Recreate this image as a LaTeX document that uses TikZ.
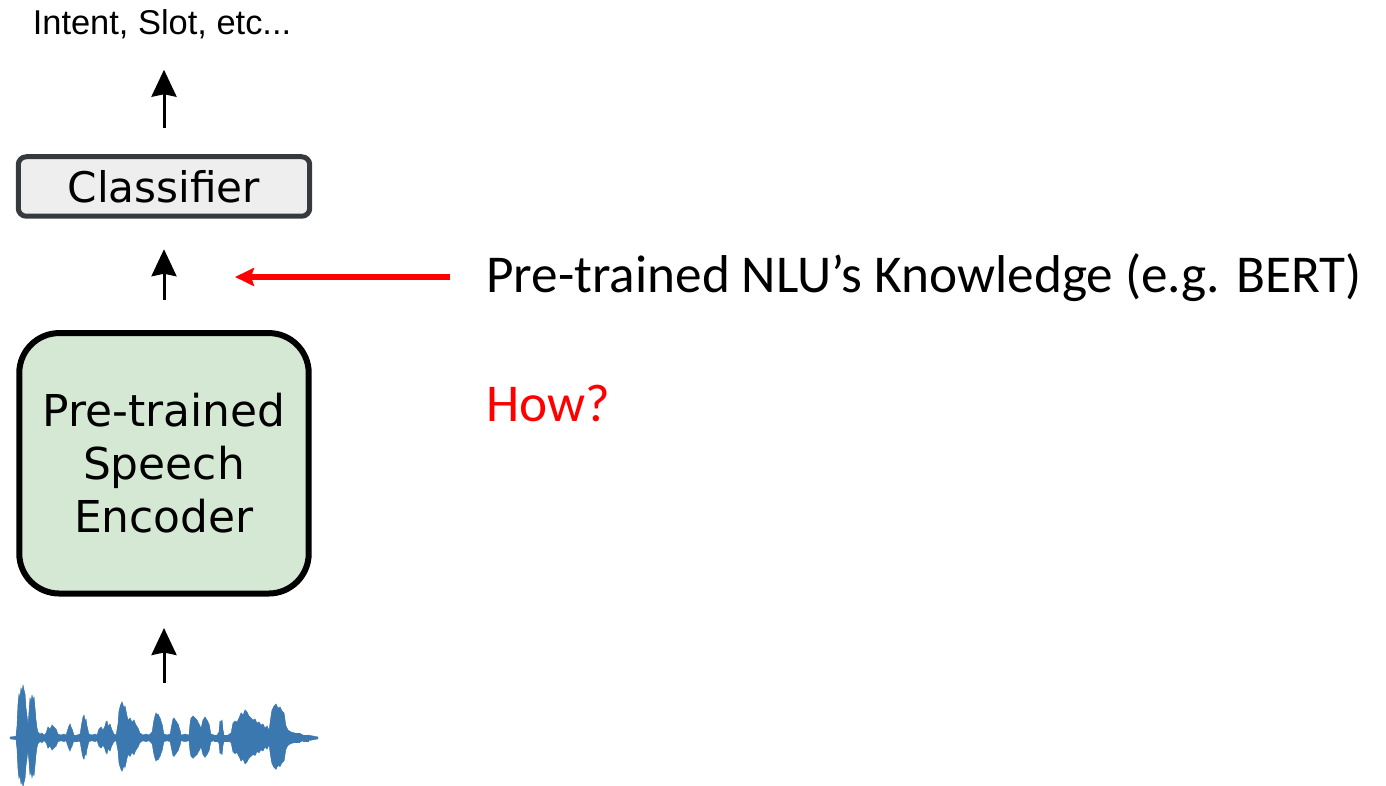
\documentclass[tikz,border=0pt]{standalone}
\usepackage{fontspec}
\usetikzlibrary{arrows.meta}
\newfontfamily\helvfont{Liberation Sans}
\newfontfamily\verdfont{DejaVu Sans}
\newfontfamily\calibfont{Carlito}
\definecolor{encgreen}{HTML}{D5E8D4}
\definecolor{clsgray}{HTML}{EEEEEE}
\definecolor{clsline}{HTML}{36393D}
\definecolor{wavblue}{HTML}{3B78B0}
\definecolor{hintred}{HTML}{FF0000}
\def\wavelist{14/1.5, 16/2, 17/12, 18/34, 19/44, 20/40, 21/50, 22/46, 23/53, 24/48, 25/44, 26/30, 27/22, 28/12, 29/26, 30/40, 31/36, 32/43, 33/38, 34/41, 35/30, 36/18, 37/10, 38/6, 40/4, 42/5, 44/3, 46/5, 48/11, 50/9, 52/13, 54/11, 56/9, 58/4, 61/3, 64/4, 66/3, 68/9, 69/12, 70/14, 71/11, 72/9, 74/3, 77/3, 80/4, 82/16, 83/21, 84/23, 85/17, 86/19, 87/12, 89/4, 92/3, 95/4, 97/3, 99/9, 101/11, 103/8, 105/12, 106/16, 107/17, 108/12, 110/14, 112/8, 114/4, 116/3, 118/14, 119/27, 120/31, 121/34, 122/36, 123/33, 124/30, 125/32, 126/27, 127/22, 128/18, 130/20, 132/16, 134/18, 136/13, 138/10, 140/5, 143/3, 146/4, 149/3, 152/6, 154/18, 155/22, 156/25, 157/23, 158/24, 160/20, 162/14, 164/4, 167/3, 170/4, 172/14, 173/19, 174/20, 176/17, 178/14, 180/8, 181/3, 185/4, 189/3, 190/14, 191/20, 193/22, 195/20, 197/18, 199/14, 201/10, 203/18, 205/21, 207/18, 209/14, 211/4, 214/3, 217/3, 219/6, 220/17, 221/16, 222/18, 223/8, 224/3, 228/3, 231/5, 233/15, 235/17, 237/16, 239/20, 241/25, 243/23, 245/28, 247/26, 249/22, 251/20, 253/18, 255/19, 257/15, 259/16, 261/13, 263/14, 265/10, 267/12, 269/8, 271/22, 272/28, 274/32, 276/34, 278/30, 280/31, 282/27, 284/25, 286/12, 288/8, 291/6, 295/5, 299/5, 303/3, 308/3, 313/2, 318/1}

\begin{document}
\begin{tikzpicture}[x=0.02cm,y=-0.02cm,
    uparrow/.style={line width=0.06cm,-{Stealth[length=0.54cm,width=0.5cm,inset=0.05cm]}},
    redarrow/.style={draw=hintred,line width=0.12cm,-{Stealth[length=0.38cm,width=0.36cm,inset=0.06cm]}},
    encbox/.style={draw=black,fill=encgreen,line width=0.12cm,rounded corners=0.8cm,
        minimum width=5.79cm,minimum height=5.21cm,inner sep=0,align=center,
        font=\verdfont\fontsize{25}{30.2}\selectfont},
    clsbox/.style={draw=clsline,fill=clsgray,line width=0.1cm,rounded corners=0.16cm,
        minimum width=5.83cm,minimum height=1.19cm,inner sep=0,
        font=\verdfont\fontsize{24}{28}\selectfont},
    wavefill/.style={fill=wavblue,draw=wavblue,line width=0.2pt}]
\useasboundingbox (0,0) rectangle (1386,786);

\node[anchor=base,inner sep=0,font=\helvfont\fontsize{19.6}{23}\selectfont] (intent) at (162,35) {Intent, Slot, etc...};
\node[clsbox] (cls) at (164,186.5) {Classifier};
\node[encbox] (enc) at (164,463.3) {Pre-trained\\Speech\\Encoder};
\node[anchor=base west,inner sep=0,font=\calibfont\fontsize{30.3}{36}\selectfont] (nlu) at (486,293) {Pre-trained NLU’s Knowledge (e.g. BERT)};
\node[anchor=base west,inner sep=0,text=hintred,font=\calibfont\fontsize{30.3}{36}\selectfont] (how) at (486,422) {How?};

% speech waveform
\foreach \x/\a [remember=\x as \lx (initially 10), remember=\a as \la (initially 1)] in \wavelist
    \fill[wavefill] (\lx,738-\la) -- (\x,738-\a) -- (\x,738+0.92*\a) -- (\lx,738+0.92*\la) -- cycle;
\coordinate (wave) at (164,683);

\draw[uparrow,shorten >=0.63cm] (wave) -- (enc.south);
\draw[uparrow,shorten <=0.6cm,shorten >=0.61cm] (enc.north) -- (cls.south);
\draw[uparrow,shorten <=0.53cm,shorten >=0.6cm] (cls.north) -- (cls.north |- intent.south);

\coordinate (knw) at (450,277);
\coordinate (inject) at (235,277);
\draw[redarrow] (knw) -- (inject);
\end{tikzpicture}
\end{document}
